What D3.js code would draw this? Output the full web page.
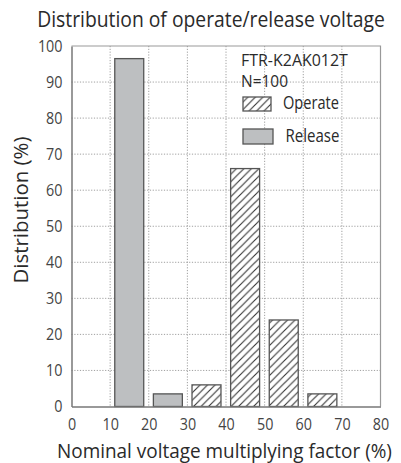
<!DOCTYPE html>
<html><head><meta charset="utf-8">
<script src="https://cdn.jsdelivr.net/npm/d3@7"></script>
<style>
body{margin:0;background:#fff;}
text{font-family:"Open Sans",sans-serif;fill:#2a2a2a;}
</style></head>
<body><svg id="c" width="401" height="463"></svg>
<script>
const binStarts = [10, 20, 30, 40, 50, 60];
const seriesNames = ["Operate", "Release"];
const operateValues = [0, 0, 6, 66, 24, 3.5];
const releaseValues = [96.5, 3.5, 0, 0, 0, 0];
const xTicks = [0, 10, 20, 30, 40, 50, 60, 70, 80];
const yTicks = [0, 10, 20, 30, 40, 50, 60, 70, 80, 90, 100];
const title = "Distribution of operate/release voltage";
const xTitle = "Nominal voltage multiplying factor (%)";
const yTitle = "Distribution (%)";
const noteLines = ["FTR-K2AK012T", "N=100"];

const svg = d3.select("#c");
const m = {l:71.5, r:380.5, t:46, b:406.5};
const x = d3.scaleLinear().domain([0,80]).range([m.l, m.r]);
const y = d3.scaleLinear().domain([0,100]).range([m.b, m.t]);

// place a text at (tx,ty), optionally rotated, condensed to a given width
function fitText(parent, str, tx, ty, size, width, anchor, rot) {
  const t = parent.append("text").attr("x",0).attr("y",0).attr("font-size",size)
    .attr("text-anchor",anchor||"start").text(str);
  const nat = t.node().getComputedTextLength();
  const sx = width / nat;
  t.attr("transform",`translate(${tx},${ty})${rot?` rotate(${rot})`:""} scale(${sx},1)`);
  return t;
}

const defs = svg.append("defs");
const p = defs.append("pattern").attr("id","hatch").attr("patternUnits","userSpaceOnUse")
  .attr("width",7.5).attr("height",7.5);
p.append("rect").attr("width",7.5).attr("height",7.5).attr("fill","#fff");
p.append("path").attr("d","M-1,1 l2,-2 M0,7.5 l7.5,-7.5 M6.5,8.5 l2,-2")
  .attr("stroke","#333").attr("stroke-width",1.1);

// grid
svg.append("g").selectAll("line").data(xTicks.filter(d=>d>0&&d<80)).join("line")
  .attr("x1",d=>x(d)).attr("x2",d=>x(d)).attr("y1",m.t).attr("y2",m.b)
  .attr("stroke","#888").attr("stroke-width",0.8).attr("stroke-dasharray","1.2,1.6");
svg.append("g").selectAll("line").data(yTicks.filter(d=>d>0&&d<100)).join("line")
  .attr("x1",m.l).attr("x2",m.r).attr("y1",d=>y(d)).attr("y2",d=>y(d))
  .attr("stroke","#888").attr("stroke-width",0.8).attr("stroke-dasharray","1.2,1.6");

// bars
const rows = binStarts.map((b,i)=>({b, op:operateValues[i], rel:releaseValues[i]}));
const barL = 1.2, barR = 8.7;
svg.append("g").selectAll("rect").data(rows.filter(d=>d.rel>0)).join("rect")
  .attr("x",d=>x(d.b+barL)).attr("width",d=>x(d.b+barR)-x(d.b+barL))
  .attr("y",d=>y(d.rel)).attr("height",d=>y(0)-y(d.rel))
  .attr("fill","#bdbfc1").attr("stroke","#555").attr("stroke-width",1.3);
svg.append("g").selectAll("rect").data(rows.filter(d=>d.op>0)).join("rect")
  .attr("x",d=>x(d.b+barL)).attr("width",d=>x(d.b+barR)-x(d.b+barL))
  .attr("y",d=>y(d.op)).attr("height",d=>y(0)-y(d.op))
  .attr("fill","url(#hatch)").attr("stroke","#555").attr("stroke-width",1.3);

// frame
svg.append("path").attr("d",`M${m.l},${m.t}H${m.r}V${m.b}`).attr("fill","none")
  .attr("stroke","#999").attr("stroke-width",1.2);

// axes
const xa = svg.append("g").attr("transform",`translate(0,${m.b})`)
  .call(d3.axisBottom(x).tickValues(xTicks).tickSize(0).tickPadding(11.5));
xa.select(".domain").attr("stroke","#777").attr("stroke-width",1.5);
xa.selectAll("text").attr("font-size",17).style("fill","#444")
  .style("font-family","\"Open Sans\",sans-serif")
  .attr("textLength",d=>String(d).length*8.2).attr("lengthAdjust","spacingAndGlyphs");
const ya = svg.append("g").attr("transform",`translate(${m.l},0)`)
  .call(d3.axisLeft(y).tickValues(yTicks).tickSize(0).tickPadding(9));
ya.select(".domain").attr("stroke","#777").attr("stroke-width",1.5);
ya.selectAll("text").attr("font-size",17).style("fill","#444")
  .style("font-family","\"Open Sans\",sans-serif")
  .attr("textLength",d=>String(d).length*8.2).attr("lengthAdjust","spacingAndGlyphs");

// titles
fitText(svg, title, 211, 27, 21, 348, "middle");
fitText(svg, xTitle, 224.5, 458, 20, 335, "middle");
fitText(svg, yTitle, 28, 210, 20, 147, "middle", -90);

// note + legend
const noteW = [107, 47];
noteLines.forEach((s,i)=> fitText(svg, s, 241, 66 + i*20.5, 16, noteW[i], "start"));
const legW = [56, 54];
seriesNames.forEach((s,i)=>{
  const yy = 97 + i*32;
  svg.append("rect").attr("x",243).attr("y",yy).attr("width",28+i*2).attr("height",14+i)
    .attr("fill", i===0 ? "url(#hatch)" : "#bdbfc1").attr("stroke","#555").attr("stroke-width",1.3);
  fitText(svg, s, 283+i*2.5, yy+12+i, 18, legW[i], "start");
});
</script></body></html>
